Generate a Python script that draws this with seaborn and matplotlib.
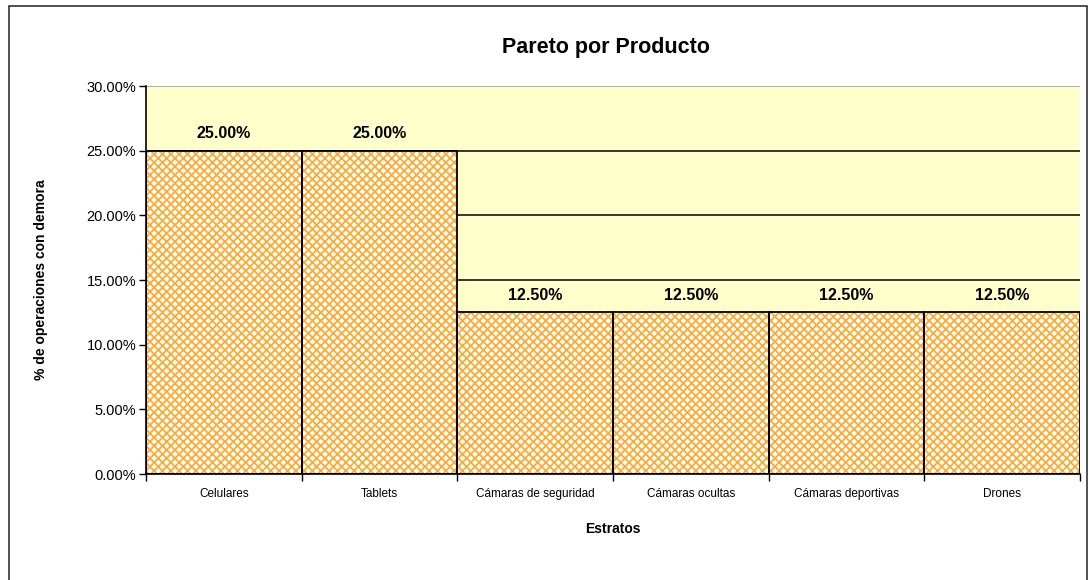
import matplotlib
matplotlib.use("Agg")
import matplotlib.pyplot as plt
from matplotlib.patches import Rectangle
from matplotlib.ticker import PercentFormatter, MultipleLocator
import seaborn as sns
import pandas as pd

# Pareto data: share of delayed operations per product line
categories = ["Celulares", "Tablets", "Cámaras de seguridad",
              "Cámaras ocultas", "Cámaras deportivas", "Drones"]
shares = [25.00, 25.00, 12.50, 12.50, 12.50, 12.50]

df = pd.DataFrame({"Estratos": categories, "pct": shares})

sns.set_theme(style="white")
plt.rcParams["font.family"] = ["Liberation Sans", "DejaVu Sans"]
plt.rcParams["hatch.linewidth"] = 1.3
for key in ["text.color", "axes.labelcolor", "xtick.color", "ytick.color"]:
    plt.rcParams[key] = "black"

orange = "#FFAA33"
fig = plt.figure(figsize=(10.89, 5.80), dpi=100)
ax = fig.add_axes([146 / 1089, 106 / 580, 934 / 1089, 388 / 580])
ax.set_facecolor("#FFFFCC")

# Hatched fill of the bars
sns.barplot(data=df, x="Estratos", y="pct", ax=ax, width=1.0,
            color="white", saturation=1, edgecolor=orange, linewidth=0,
            hatch="xxxx", zorder=2)
# Black outlines on top of the hatching
sns.barplot(data=df, x="Estratos", y="pct", ax=ax, width=1.0,
            fill=False, edgecolor="black", linewidth=1.3, zorder=3)

ax.set_xlim(-0.5, len(categories) - 0.5)
ax.set_ylim(0, 30)
ax.yaxis.set_major_locator(MultipleLocator(5))
ax.yaxis.set_major_formatter(PercentFormatter(decimals=2))
for y in range(5, 30, 5):
    ax.axhline(y, color="black", lw=1.1, zorder=1)
ax.axhline(30, color="#A0A0A0", lw=1.2, zorder=1)

for s in ["top", "right"]:
    ax.spines[s].set_visible(False)
ax.spines["left"].set_color("black")
ax.spines["left"].set_linewidth(1.2)
ax.spines["bottom"].set_color("black")
ax.spines["bottom"].set_linewidth(1.2)

ax.tick_params(axis="y", which="major", direction="out", length=5, width=1,
               color="black", labelsize=10.5, pad=2, left=True)
ax.tick_params(axis="x", which="major", direction="out", length=5, width=1,
               color="black", labelsize=8.5, pad=10, bottom=True)
# Ticks at category boundaries
ax.set_xticks([i - 0.5 for i in range(len(categories) + 1)], minor=True)
ax.tick_params(axis="x", which="minor", direction="out", length=5, width=1,
               color="black", bottom=True)
ax.tick_params(axis="x", which="major", length=0)

# Value labels above each bar
for i, v in enumerate(shares):
    ax.annotate(f"{v:.2f}%", (i, v), xytext=(0, 7), textcoords="offset points",
                ha="center", va="bottom", fontsize=11.5, fontweight="bold")

ax.set_xlabel("Estratos", fontsize=10, fontweight="bold", labelpad=16)
ax.set_ylabel("% de operaciones con demora", fontsize=10, fontweight="bold",
              labelpad=28)
fig.suptitle("Pareto por Producto", x=606 / 1089, y=1 - 47 / 580, va="center",
             fontsize=15.5, fontweight="bold")

# Chart-area frame
fig.patches.append(Rectangle((9 / 1089, -0.05), 1078 / 1089, 1.05 - 6 / 580,
                             transform=fig.transFigure, fill=False,
                             edgecolor="#333333", lw=1.2, clip_on=False))

fig.savefig("out.png", dpi=100)
